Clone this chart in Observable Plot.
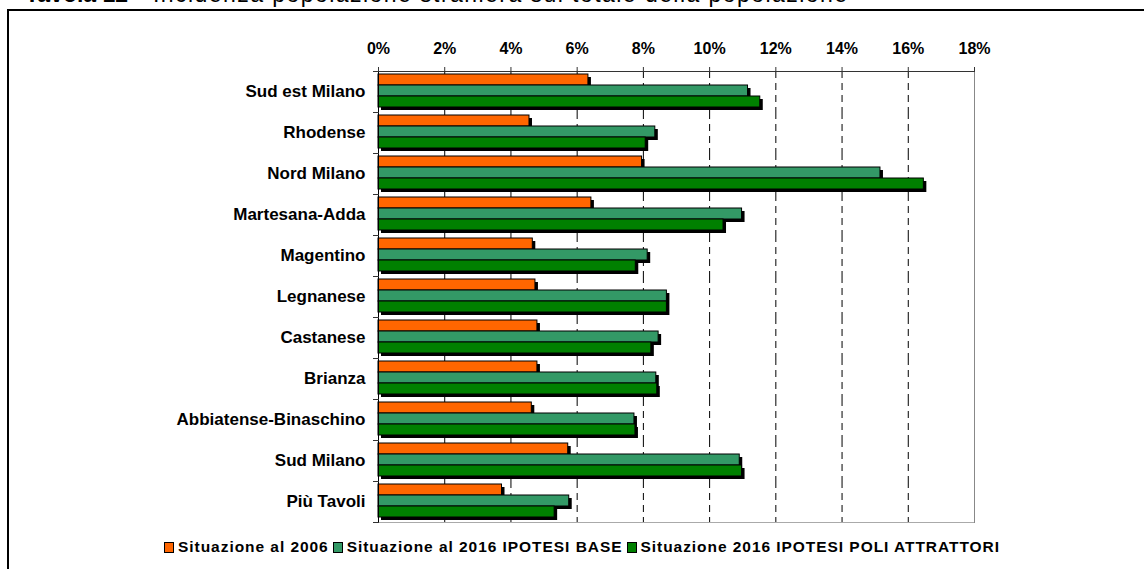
<!DOCTYPE html>
<html><head><meta charset="utf-8">
<script src="https://cdn.jsdelivr.net/npm/d3@7"></script>
<script src="https://cdn.jsdelivr.net/npm/@observablehq/plot@0.6"></script>
<style>
body{margin:0;width:1144px;height:569px;overflow:hidden;position:relative;font-family:"Liberation Sans",Arial,sans-serif;background:#fff}
#title{position:absolute;left:25px;top:-19px;font-size:23px;white-space:nowrap;color:#000}
#title .rest{letter-spacing:1.45px}
#box{position:absolute;left:7px;top:9px;width:1150px;height:620px;border:2px solid #000;box-sizing:border-box}
#chart{position:absolute;left:0;top:0}
#chart svg{display:block}
#legend{position:absolute;left:8px;top:538px;width:1144px;text-align:center;font-size:15.5px;letter-spacing:0.95px;font-weight:bold;white-space:nowrap;color:#000}
#legend .sw{display:inline-block;width:8px;height:9px;border:1px solid #000;margin:0 4px 0 4px;vertical-align:-1px}
</style></head>
<body>
<div id="title"><b>Tavola 12</b><span class="rest"> - Incidenza popolazione straniera sul totale della popolazione</span></div>
<div id="box"></div>
<div id="chart"></div>
<div id="legend"></div>
<script>
const regions = ["Sud est Milano","Rhodense","Nord Milano","Martesana-Adda","Magentino","Legnanese","Castanese","Brianza","Abbiatense-Binaschino","Sud Milano","Più Tavoli"];
const series = ["Situazione al 2006","Situazione al 2016 IPOTESI BASE","Situazione 2016 IPOTESI POLI ATTRATTORI"];
const v2006 = [6.34, 4.56, 7.96, 6.43, 4.66, 4.74, 4.80, 4.80, 4.63, 5.73, 3.73];
const vBase = [11.16, 8.36, 15.16, 10.98, 8.13, 8.71, 8.46, 8.39, 7.73, 10.91, 5.76];
const vPoli = [11.53, 8.07, 16.47, 10.42, 7.77, 8.71, 8.24, 8.42, 7.76, 10.98, 5.32];
const colors = ["#FF6600","#339966","#008000"];
const xTicks = [0,2,4,6,8,10,12,14,16,18];

const values = [v2006, vBase, vPoli];
const rows = regions.flatMap((r, i) => series.map((s, j) => ({region: r, series: s, value: values[j][i]})));

const W = 1144, H = 569, mL = 378, mR = 170, mT = 67, mB = 43;
const font = "Liberation Sans, Arial, sans-serif";

const chart = Plot.plot({
  width: W, height: H,
  marginLeft: mL, marginRight: mR, marginTop: mT, marginBottom: mB,
  style: {fontFamily: font, background: "transparent", overflow: "visible", color: "#000"},
  x: {domain: [0, 18], axis: null},
  y: {domain: series, axis: null, paddingInner: 0, paddingOuter: 0.28, align: 0.4},
  fy: {domain: regions, padding: 0, axis: null},
  color: {domain: series, range: colors},
  marks: [
    Plot.ruleX(xTicks.filter(d => d > 0 && d < 18), {stroke: "#000", strokeDasharray: "7,5"}),
    Plot.barX(rows, {fy: "region", y: "series", x: "value", fill: "#000", dx: 3, dy: 3}),
    Plot.barX(rows, {fy: "region", y: "series", x: "value", fill: "series", stroke: "#000", strokeWidth: 1}),
    Plot.frame({facet: "super", anchor: "bottom", stroke: "#aaa"}),
    Plot.frame({facet: "super", anchor: "right", stroke: "#888"}),
    Plot.frame({facet: "super", anchor: "top", stroke: "#333"}),
    Plot.frame({facet: "super", anchor: "left", stroke: "#000"}),
    Plot.frame({anchor: "top", stroke: "#333", insetLeft: -5, insetRight: W - mL - mR}),
    Plot.frame({anchor: "bottom", stroke: "#333", insetLeft: -5, insetRight: W - mL - mR}),
    Plot.axisX(xTicks, {anchor: "top", tickSize: 5, tickPadding: 13, tickFormat: d => d + "%", fontSize: 16, fontWeight: "bold", stroke: "#333", label: null}),
    Plot.axisFy({anchor: "left", tickSize: 0, tickPadding: 13, fontSize: 17, fontWeight: "bold", label: null})
  ]
});
document.getElementById("chart").appendChild(chart);

const legend = document.getElementById("legend");
legend.innerHTML = series.map((s, j) => `<span class="sw" style="background:${colors[j]}"></span>${s}`).join("");
</script>
</body></html>
